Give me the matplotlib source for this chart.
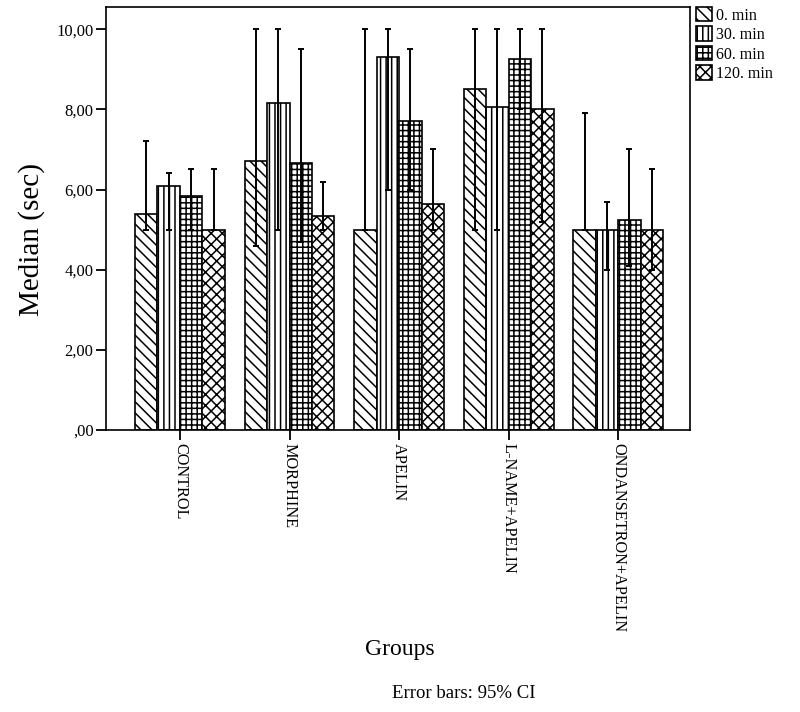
import numpy as np
import matplotlib
matplotlib.use("Agg")
import matplotlib.pyplot as plt
from matplotlib.ticker import FuncFormatter

### Data
groups = ["CONTROL", "MORPHINE", "APELIN", "L-NAME+APELIN", "ONDANSETRON+APELIN"]
times = ["0. min", "30. min", "60. min", "120. min"]

median_0 = [5.4, 6.7, 5.0, 8.5, 5.0]
median_30 = [6.1, 8.15, 9.3, 8.05, 5.0]
median_60 = [5.85, 6.65, 7.7, 9.25, 5.25]
median_120 = [5.0, 5.35, 5.65, 8.0, 5.0]

ci_low_0 = [5.0, 4.6, 5.0, 5.0, 5.0]
ci_low_30 = [5.0, 5.0, 6.0, 5.0, 4.0]
ci_low_60 = [5.0, 4.7, 6.0, 8.0, 4.1]
ci_low_120 = [5.0, 5.0, 5.0, 5.2, 4.0]

ci_high_0 = [7.2, 10.0, 10.0, 10.0, 7.9]
ci_high_30 = [6.4, 10.0, 10.0, 10.0, 5.7]
ci_high_60 = [6.5, 9.5, 9.5, 10.0, 7.0]
ci_high_120 = [6.5, 6.2, 7.0, 10.0, 6.5]

medians = [median_0, median_30, median_60, median_120]
ci_low = [ci_low_0, ci_low_30, ci_low_60, ci_low_120]
ci_high = [ci_high_0, ci_high_30, ci_high_60, ci_high_120]
hatches = ["\\\\\\", "|||", "+++", "xxx"]

####

plt.rcParams["font.family"] = ["Liberation Serif", "DejaVu Serif"]
plt.rcParams["hatch.linewidth"] = 1.1

fig = plt.figure(figsize=(8, 7.12), dpi=100)
ax = fig.add_axes([0.1325, 0.396, 0.73, 0.594])

x = np.arange(len(groups))
width = 0.205
handles = []
for i in range(len(times)):
    pos = x + (i - 1.5) * width
    med = np.array(medians[i])
    err = [med - np.array(ci_low[i]), np.array(ci_high[i]) - med]
    b = ax.bar(pos, med, width, color="white", edgecolor="black",
               linewidth=1.2, hatch=hatches[i], label=times[i], zorder=2)
    handles.append(b)
    ax.errorbar(pos, med, yerr=err, fmt="none", ecolor="black",
                elinewidth=1.4, capsize=2.4, capthick=1.4, zorder=3)

def fmt_tick(v, p):
    s = ("%.2f" % v).replace(".", ",")
    return s.lstrip("0") if v == 0 else s

ax.set_xlim(-0.675, 4.655)
ax.set_ylim(0, 10.55)
ax.set_yticks([0, 2, 4, 6, 8, 10])
ax.yaxis.set_major_formatter(FuncFormatter(fmt_tick))
ax.set_xticks(x)
ax.set_xticklabels(groups, rotation=-90, fontsize=11.7, va="top", ha="center")
ax.tick_params(axis="both", direction="out", length=7, width=1.3)
ax.tick_params(axis="y", labelsize=12, pad=2)
ax.tick_params(axis="x", pad=2)
for s in ax.spines.values():
    s.set_linewidth(1.2)

ax.set_ylabel("Median (sec)", fontsize=21)
ax.yaxis.set_label_coords(-0.104, 0.45)
fig.text(0.5, 1 - 650 / 712, "Groups", fontsize=17, ha="center", va="center")
fig.text(0.58, 1 - 693 / 712, "Error bars: 95% CI", fontsize=13.5, ha="center", va="center")

fig.legend(handles=handles, loc="upper left", bbox_to_anchor=(696 / 800, 1 - 7 / 712),
           frameon=False, fontsize=11.5, handlelength=1.0, handleheight=1.0,
           handletextpad=0.25, labelspacing=0.18, borderpad=0, borderaxespad=0)

plt.savefig("out.png", dpi=100)
